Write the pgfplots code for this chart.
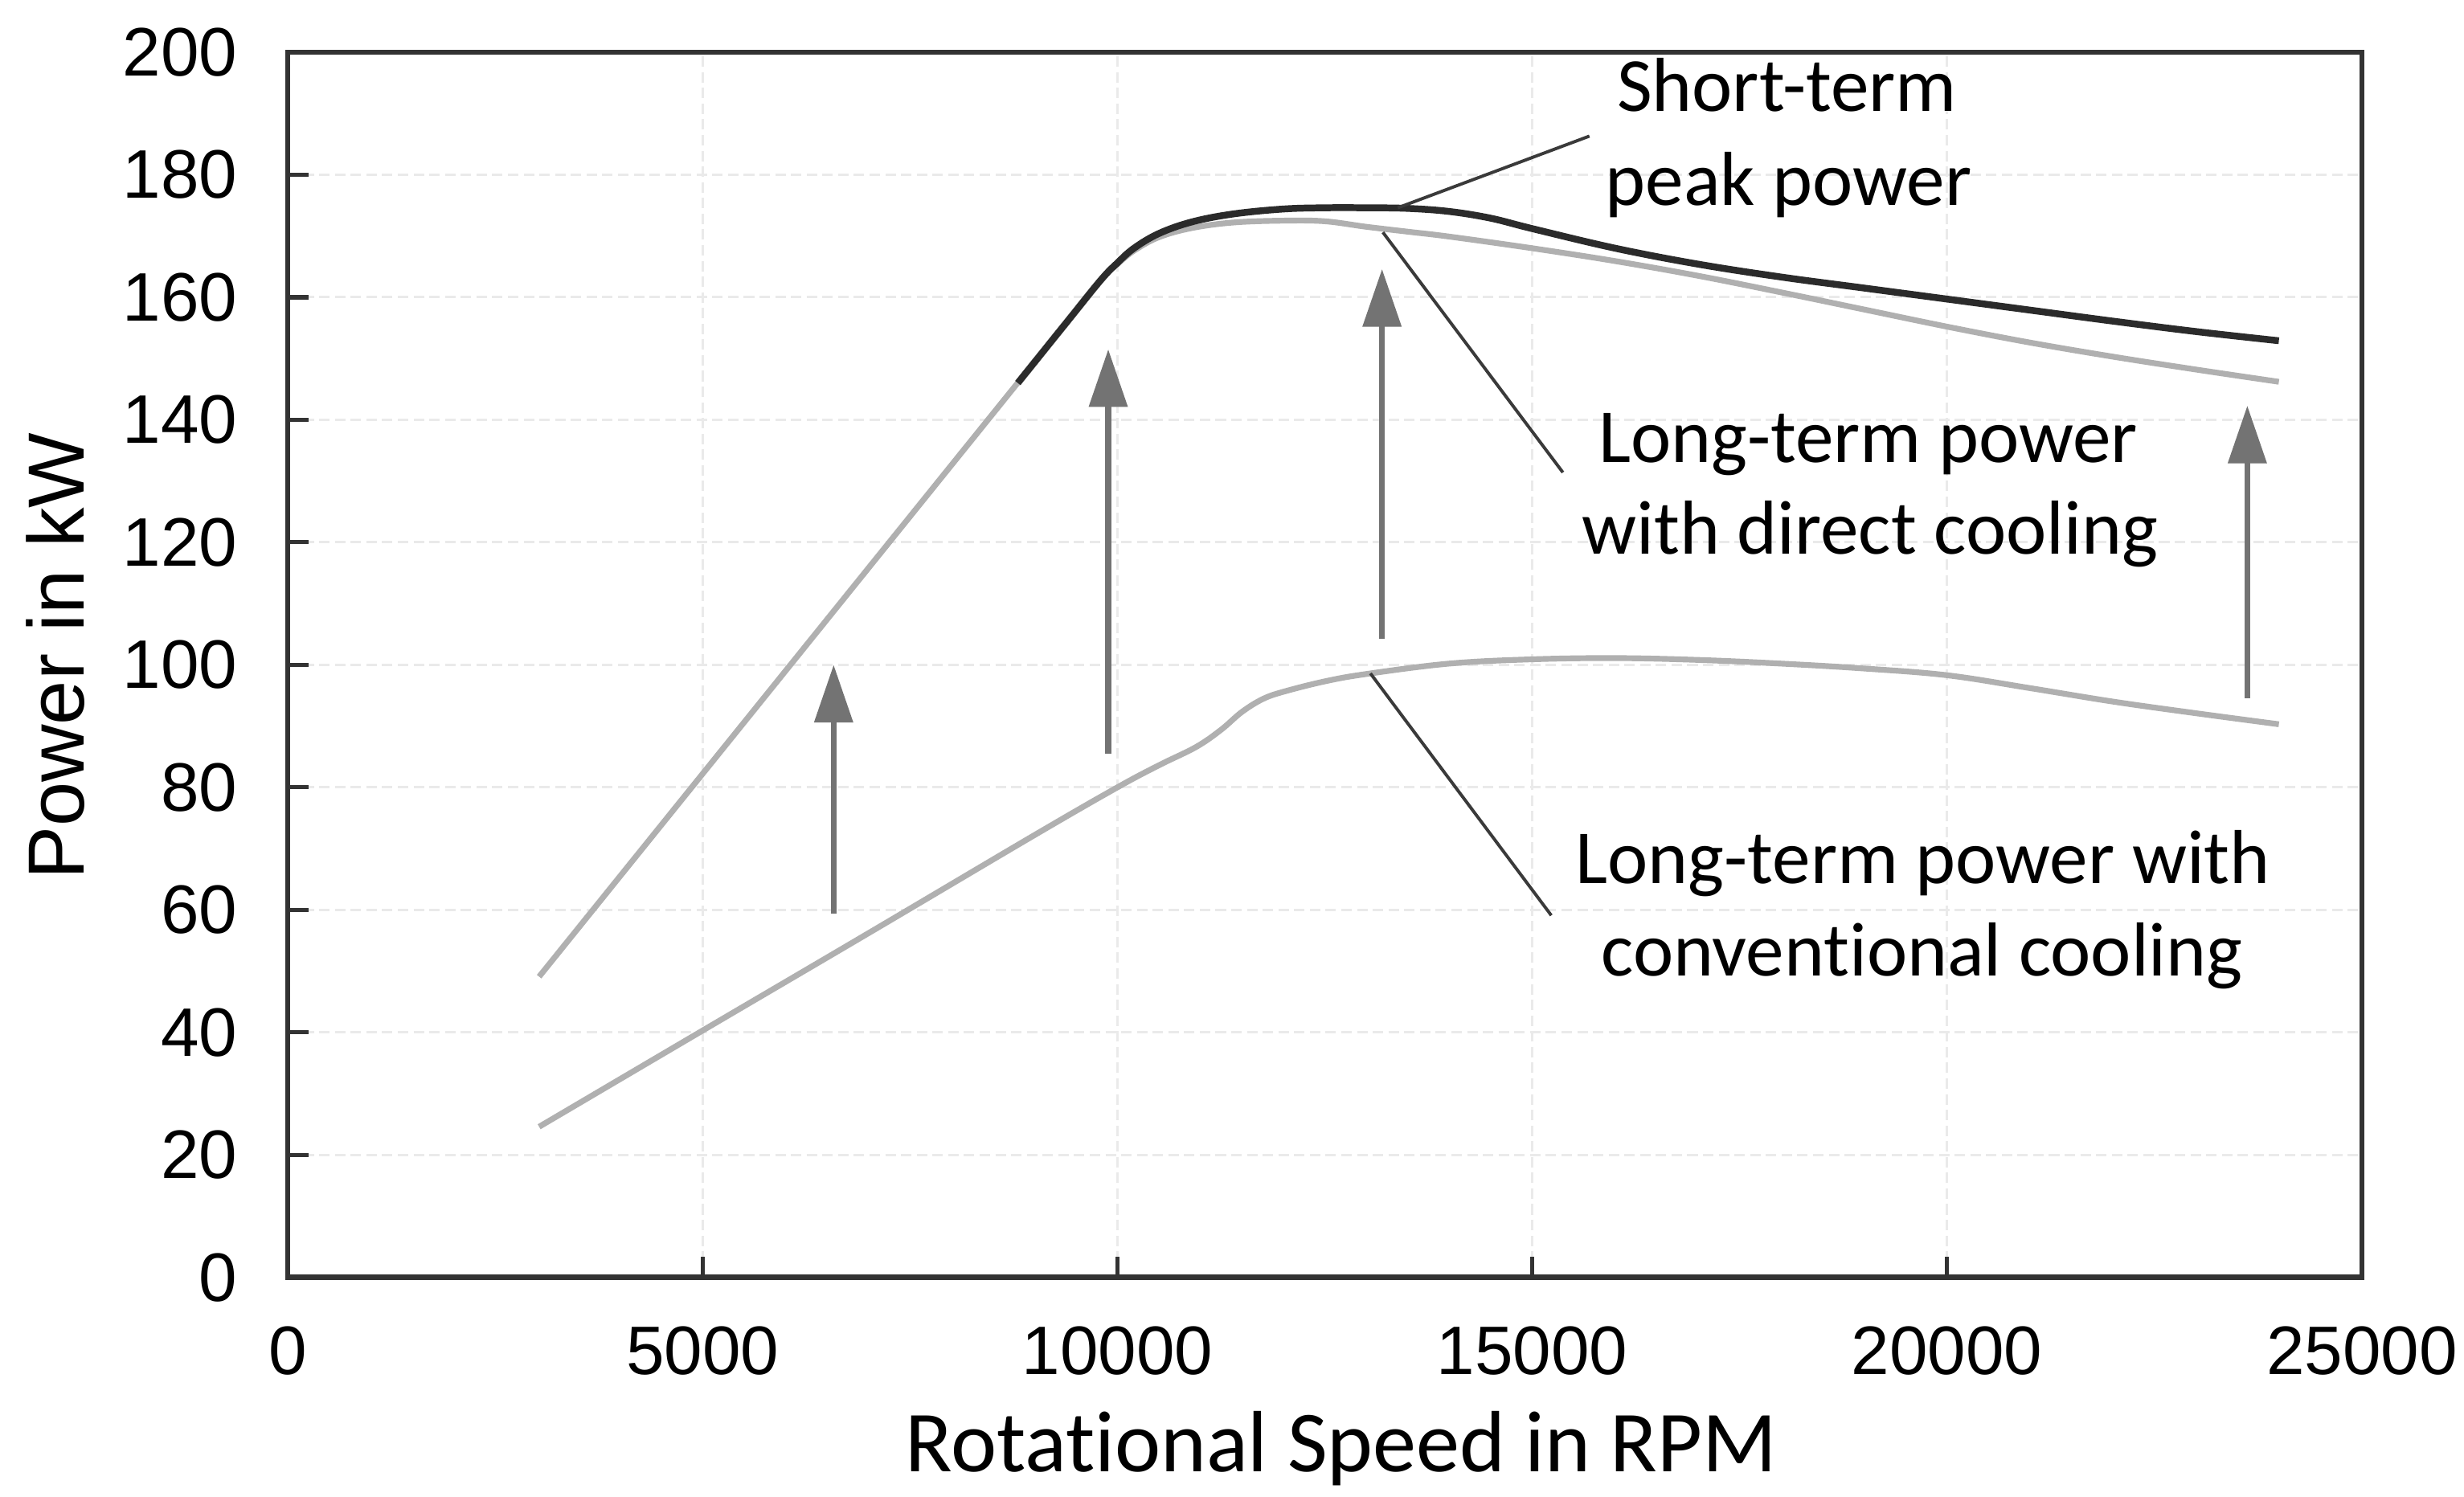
\documentclass[border=0pt]{standalone}
\usepackage{fontspec}
\setmainfont{Liberation Sans}
\newfontfamily\calib[Ligatures={NoCommon,NoContextual,NoRequired}]{Carlito}
\usepackage{pgfplots}
\pgfplotsset{compat=1.18}
\usetikzlibrary{arrows.meta}
\definecolor{peak}{HTML}{2B2B2B}
\definecolor{lgray}{HTML}{B0B0B0}
\definecolor{agray}{HTML}{737373}
\definecolor{lead}{HTML}{3A3A3A}
\definecolor{gridc}{HTML}{EAEAEA}
\definecolor{axc}{HTML}{333333}

\begin{document}
\begin{tikzpicture}
\useasboundingbox (-54.9pt,-41.85pt) rectangle (415.2pt,243.76pt);
\begin{axis}[
  at={(0,0)}, anchor=south west,
  scale only axis, width=395.7pt, height=233.8pt,
  xmin=0, xmax=25000, ymin=0, ymax=200,
  xtick={0,5000,10000,15000,20000,25000},
  ytick={0,20,40,60,80,100,120,140,160,180,200},
  scaled x ticks=false,
  /pgf/number format/1000 sep={},
  /pgf/number format/assume math mode=true,
  tick label style={font=\fontsize{13.1}{15.7}\selectfont, text=black},
  yticklabel style={anchor=east, inner sep=0pt, xshift=-9.4pt},
  xticklabel style={anchor=north, inner sep=0pt, yshift=-9.2pt},
  tick align=inside, xtick pos=left, ytick pos=left,
  major tick length=4pt,
  tick style={axc, line width=0.8pt},
  axis line style={axc, line width=0.9pt},
  grid=major,
  major grid style={gridc, line width=0.45pt, dash pattern=on 2pt off 1pt},
  every axis x label/.style={at={([yshift=-37pt]axis description cs:0.508,0)}, anchor=base, font=\calib\fontsize{16.6}{20}\selectfont},
  every axis y label/.style={at={([xshift=-44.3pt]axis description cs:0,0.507)}, anchor=center, rotate=90, font=\fontsize{15.2}{18}\selectfont},
  xlabel={Rotational Speed in RPM},
  ylabel={Power in kW},
]
% long-term power, conventional cooling
\addplot[lgray, line width=1.1pt, smooth, tension=0.6] coordinates {
(3030,24.6) (5000,40.3) (7000,56.2) (9000,72.2) (10000,80.0) (10500,83.6)
(10950,86.6) (11250,89.4) (11500,92.3) (11750,94.4) (12000,95.6) (12500,97.3)
(13000,98.5) (14000,100.2) (15000,100.9) (16000,101.1) (17000,100.8)
(18000,100.2) (19000,99.4) (20000,98.3) (21000,96.2) (22000,94.0)
(23000,92.1) (24000,90.3)};
% long-term power, direct cooling
\addplot[lgray, line width=1.1pt, smooth, tension=0.6] coordinates {
(3030,49.1) (5000,82.2) (7000,115.8) (9000,149.4) (9800,162.8) (10000,165.4)
(10200,167.6) (10500,169.8) (10900,171.3) (11400,172.2) (12000,172.5)
(12500,172.4) (13000,171.5) (13500,170.7) (14000,169.9) (15000,168.0)
(16000,165.9) (17000,163.5) (18000,160.8) (19000,158.0) (20000,155.2)
(21000,152.6) (22000,150.3) (23000,148.2) (24000,146.2)};
% short-term peak power
\addplot[peak, line width=1.3pt, smooth, tension=0.6] coordinates {
(8800,146.0) (9400,156.1) (9800,162.8) (10000,165.6) (10200,168.0)
(10500,170.4) (10900,172.3) (11400,173.6) (12000,174.4) (12500,174.6)
(13000,174.6) (13500,174.5) (14000,174.0) (14500,172.9) (15000,171.2)
(16000,168.0) (17000,165.4) (18000,163.3) (19000,161.5) (20000,159.7)
(21000,157.9) (22000,156.1) (23000,154.4) (24000,152.9)};
% arrows
\addplot[agray, line width=1.1pt, -{Triangle[length=11pt,width=7.2pt]}] coordinates {(6580,59.4) (6580,100.0)};
\addplot[agray, line width=1.1pt, -{Triangle[length=11pt,width=7.2pt]}] coordinates {(9890,85.5) (9890,151.5)};
\addplot[agray, line width=1.1pt, -{Triangle[length=11pt,width=7.2pt]}] coordinates {(13190,104.3) (13190,164.6)};
\addplot[agray, line width=1.1pt, -{Triangle[length=11pt,width=7.2pt]}] coordinates {(23620,94.6) (23620,142.3)};
% leader lines
\addplot[lead, line width=0.6pt] coordinates {(13380,174.6) (15690,186.3)};
\addplot[lead, line width=0.6pt] coordinates {(13200,170.6) (15370,131.4)};
\addplot[lead, line width=0.6pt] coordinates {(13050,98.6) (15230,59.1)};
% annotations
\node[font=\calib\fontsize{14.6}{17.8}\selectfont, anchor=base, inner sep=0pt] at (axis cs:18070,190.3) {Short-term};
\node[font=\calib\fontsize{14.6}{17.8}\selectfont, anchor=base, inner sep=0pt] at (axis cs:18090,175.0) {peak power};
\node[font=\calib\fontsize{14.6}{17.8}\selectfont, anchor=base, inner sep=0pt] at (axis cs:19050,133.1) {Long-term power};
\node[font=\calib\fontsize{14.6}{17.8}\selectfont, anchor=base, inner sep=0pt] at (axis cs:19070,118.1) {with direct cooling};
\node[font=\calib\fontsize{14.6}{17.8}\selectfont, anchor=base, inner sep=0pt] at (axis cs:19710,64.3) {Long-term power with};
\node[font=\calib\fontsize{14.6}{17.8}\selectfont, anchor=base, inner sep=0pt] at (axis cs:19700,49.2) {conventional cooling};
\draw[axc, line width=1.3pt] (rel axis cs:0,0) -- (rel axis cs:1,0);
\end{axis}
\end{tikzpicture}
\end{document}
